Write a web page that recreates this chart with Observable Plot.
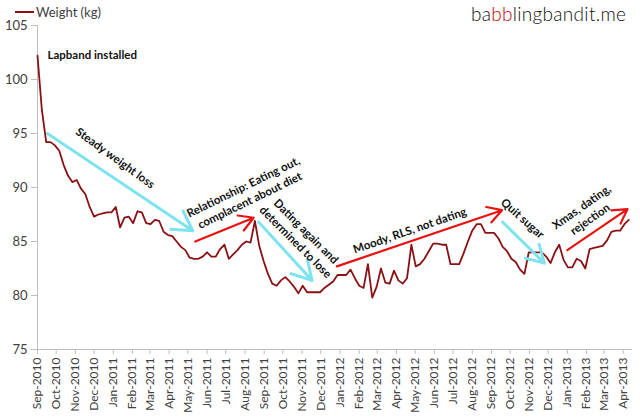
<!DOCTYPE html>
<html><head><meta charset="utf-8">
<script src="https://cdn.jsdelivr.net/npm/d3@7"></script>
<script src="https://cdn.jsdelivr.net/npm/@observablehq/plot@0.6"></script>
<style>
body{margin:0;background:#fff;}
#wrap{position:relative;width:640px;height:418px;font-family:Lato, sans-serif;}
#legend{position:absolute;left:15px;top:3px;font-size:13px;color:#404040;display:flex;align-items:center;line-height:18px;}
#legend .sw{display:inline-block;width:19px;height:0;border-top:2px solid #8b1014;margin-right:2px;}
#brand{position:absolute;left:471px;top:2px;font-size:19px;font-weight:300;color:#111;letter-spacing:0.3px;}
</style></head><body>
<div id="wrap"><div id="chart"></div>
<div id="legend"><span class="sw"></span>Weight (kg)</div>
<div id="brand">ba<span style="color:#c00000">bb</span>lingbandit.me</div></div>
<script>
// weekly weigh-ins from the start date
const startDate = "2010-09-05";
const weights = [
102.2,97.2,94.2,94.2,93.9,93.4,92.1,91.1,90.5,90.7,
89.9,89.4,88.2,87.3,87.5,87.6,87.7,87.7,88.2,86.3,
87.2,87.3,86.7,87.8,87.7,86.7,86.6,87.0,86.9,85.9,
85.6,85.5,85.0,84.5,84.2,83.5,83.4,83.4,83.6,84.0,
83.6,83.6,84.3,84.7,83.4,83.8,84.2,84.7,85.0,84.9,
86.9,84.6,83.2,82.0,81.1,80.9,81.4,81.7,81.3,80.8,
80.2,80.9,80.3,80.3,80.3,80.3,80.7,81.0,81.3,81.9,
81.9,81.9,82.4,81.6,80.9,80.7,82.9,79.8,80.8,82.5,
81.2,81.1,82.3,81.4,81.1,81.6,84.7,82.7,82.9,83.4,
84.1,84.8,84.8,84.7,84.7,82.9,82.9,82.9,83.9,85.0,
86.0,86.6,86.6,85.8,85.8,85.8,85.3,84.5,84.1,83.4,
83.1,82.4,82.0,84.0,84.0,84.0,84.0,83.6,83.0,84.0,
84.7,83.3,82.6,82.6,83.4,83.2,82.5,84.3,84.4,84.5,
84.6,85.1,85.9,86.0,86.0,86.6,87.0
];
const tickDates = [
"2010-09-05","2010-10-05","2010-11-05","2010-12-05",
"2011-01-05","2011-02-05","2011-03-05","2011-04-05","2011-05-05","2011-06-05",
"2011-07-05","2011-08-05","2011-09-05","2011-10-05","2011-11-05","2011-12-05",
"2012-01-05","2012-02-05","2012-03-05","2012-04-05","2012-05-05","2012-06-05",
"2012-07-05","2012-08-05","2012-09-05","2012-10-05","2012-11-05","2012-12-05",
"2013-01-05","2013-02-05","2013-03-05","2013-04-05"
];
const endDate = "2013-04-20";
const yTicks = [75, 80, 85, 90, 95, 100, 105];

// annotations
const arrowKinds = ["loss", "gain", "loss", "gain", "loss", "gain"];
const arrowFromDates = ["2010-09-21","2011-05-17","2011-08-27","2011-12-31","2012-09-23","2013-01-05"];
const arrowFromValues = [95.0, 85.0, 86.8, 82.7, 86.8, 84.2];
const arrowToDates = ["2011-05-13","2011-08-19","2011-11-21","2012-09-22","2012-11-29","2013-04-12"];
const arrowToValues = [86.0, 87.2, 81.4, 87.9, 83.0, 88.0];

const noteTexts = ["Steady weight loss","Relationship: Eating out,\ncomplacent about diet","Dating again and\ndetermined to lose","Moody, RLS, not dating","Quit sugar","Xmas, dating,\nrejection"];
const noteDates = ["2011-01-09","2011-08-07","2011-11-04","2012-04-26","2012-10-26","2013-02-03"];
const noteValues = [92.8, 89.5, 85.5, 86.1, 87.2, 87.7];
const noteAngles = [36, -26, 45, -19, 42, -35];

const startText = "Lapband installed";
const startTextDate = "2010-09-21";
const startTextValue = 102.2;

const parse = s => new Date(s + "T00:00:00Z");
const start = parse(startDate);
const rows = weights.map((w, i) => ({date: d3.utcDay.offset(start, 7 * i), w}));
const arrows = arrowKinds.map((k, i) => ({
  kind: k,
  x1: parse(arrowFromDates[i]), y1: arrowFromValues[i],
  x2: parse(arrowToDates[i]), y2: arrowToValues[i]
}));
const notes = noteTexts.map((t, i) => ({text: t, date: parse(noteDates[i]), value: noteValues[i], angle: noteAngles[i]}));
const arrowColor = {loss: "#7fe3ee", gain: "#ea1111"};

const chart = Plot.plot({
  width: 640, height: 418,
  marginLeft: 37, marginRight: 8, marginTop: 25, marginBottom: 69,
  style: {fontFamily: "Lato, sans-serif", background: "transparent"},
  x: {type: "utc", domain: [start, parse(endDate)]},
  y: {domain: [75, 105]},
  marks: [
    Plot.ruleY([75], {stroke: "#bfbfbf"}),
    Plot.ruleX([start], {stroke: "#bfbfbf"}),
    Plot.axisX(tickDates.map(parse), {tickFormat: d3.utcFormat("%b-%Y"), tickRotate: -90, tickSize: 5, tickPadding: 3, fontSize: 12, stroke: "#bfbfbf", fill: "#404040", label: null}),
    Plot.axisY(yTicks, {tickSize: 6, tickPadding: 4, fontSize: 13, stroke: "#bfbfbf", fill: "#404040", label: null}),
    Plot.line(rows, {x: "date", y: "w", stroke: "#8b1014", strokeWidth: 1.8}),
    Plot.arrow(arrows.filter(d => d.kind === "loss"), {x1: "x1", y1: "y1", x2: "x2", y2: "y2", stroke: arrowColor.loss, strokeWidth: 3, headLength: 11}),
    Plot.arrow(arrows.filter(d => d.kind === "gain"), {x1: "x1", y1: "y1", x2: "x2", y2: "y2", stroke: arrowColor.gain, strokeWidth: 2.2, headLength: 11}),
    Plot.text(notes, {x: "date", y: "value", text: "text", rotate: "angle", fontSize: 11.5, fontWeight: "bold", fill: "#111", lineAnchor: "middle", lineHeight: 1.3}),
    Plot.text([startText], {x: () => parse(startTextDate), y: () => startTextValue, text: d => d, textAnchor: "start", fontSize: 11.5, fontWeight: "bold", fill: "#111"})
  ]
});
document.getElementById("chart").appendChild(chart);
</script>
</body></html>
